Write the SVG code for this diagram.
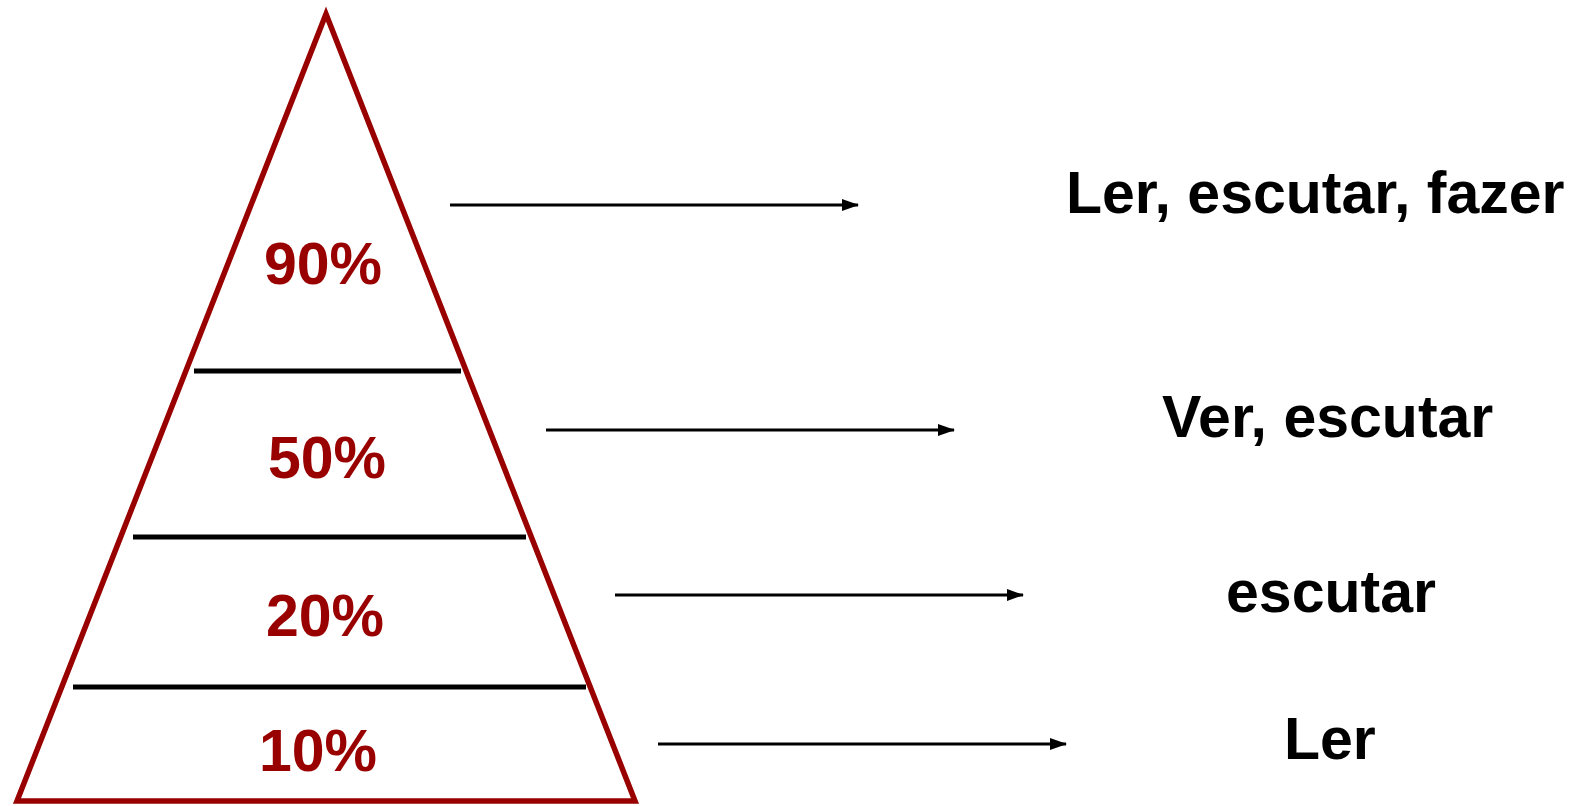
<svg xmlns="http://www.w3.org/2000/svg" width="1571" height="806" viewBox="0 0 1571 806">
<style>
.tri{fill:none;stroke:#990000;stroke-width:5.5}
.sep{stroke:#000;stroke-width:5}
.pct{font-family:"Liberation Sans",Arial,sans-serif;font-weight:bold;font-size:59px;fill:#990000;text-anchor:middle}
.lbl{font-family:"Liberation Sans",Arial,sans-serif;font-weight:bold;font-size:59px;fill:#000}
.arr{stroke:#000;stroke-width:2.8;fill:none;marker-end:url(#ah)}
</style>
<defs>
<marker id="ah" markerWidth="18" markerHeight="12" refX="16" refY="6" orient="auto" markerUnits="userSpaceOnUse">
<path d="M0,0 L17,6 L0,12 Z" fill="#000"/>
</marker>
</defs>
<g id="pyramid">
<polygon class="tri" points="326,14 17,801 635,801"/>
<line class="sep" x1="194" y1="371" x2="461" y2="371"/>
<line class="sep" x1="133" y1="537" x2="526" y2="537"/>
<line class="sep" x1="73" y1="687" x2="586" y2="687"/>
</g>
<g id="level90"><text class="pct" x="323" y="284">90%</text></g>
<g id="level50"><text class="pct" x="327" y="478">50%</text></g>
<g id="level20"><text class="pct" x="325" y="636">20%</text></g>
<g id="level10"><text class="pct" x="318" y="771">10%</text></g>
<g id="connectors">
<line class="arr" x1="450" y1="205" x2="858" y2="205"/>
<line class="arr" x1="546" y1="430" x2="954" y2="430"/>
<line class="arr" x1="615" y1="595" x2="1023" y2="595"/>
<line class="arr" x1="658" y1="744" x2="1066" y2="744"/>
</g>
<g id="label1"><text class="lbl" x="1066" y="213">Ler, escutar, fazer</text></g>
<g id="label2"><text class="lbl" x="1162" y="437">Ver, escutar</text></g>
<g id="label3"><text class="lbl" x="1226" y="612">escutar</text></g>
<g id="label4"><text class="lbl" x="1284" y="759">Ler</text></g>
</svg>
